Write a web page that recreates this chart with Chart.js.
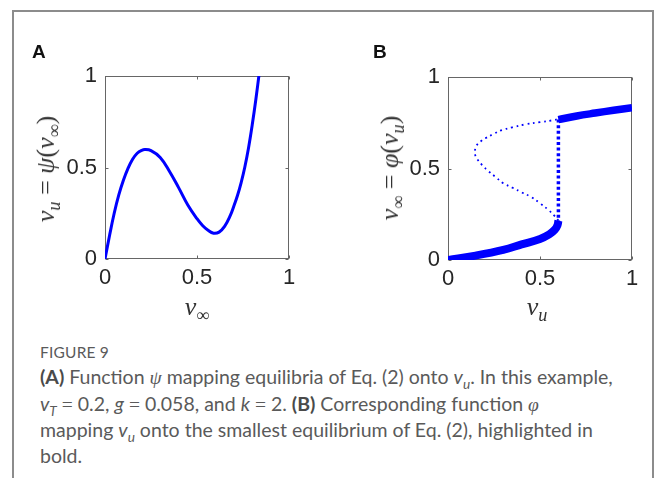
<!DOCTYPE html>
<html>
<head>
<meta charset="utf-8">
<script src="https://cdn.jsdelivr.net/npm/chart.js@4.4.0/dist/chart.umd.min.js"></script>
<style>
  html, body { margin: 0; padding: 0; background: #fff; }
  body { width: 656px; height: 478px; position: relative; overflow: hidden; }
  #frame { position: absolute; left: 12px; top: 10px; width: 638px; height: 520px;
           border: 2px solid #8c8c8c; border-bottom: none; }
  .cv { position: absolute; top: 0; }
  .plabel { position: absolute; font: bold 19px "Liberation Sans", Arial, sans-serif; line-height: 19px; color: #111; }
  .math { position: absolute; white-space: nowrap; font-family: "Liberation Serif", serif;
          font-style: italic; font-size: 26px; line-height: 26px; color: #333; }
  .math sub { font-size: 70%; vertical-align: -0.35em; line-height: 0; }
  .math .n { font-style: normal; }
  .ylab { transform: translate(-50%, -50%) rotate(-90deg); }
  .xlab { transform: translateX(-50%); }
  #caption { position: absolute; left: 40px; top: 340px; color: #5a5a5a; white-space: nowrap;
             font-family: Lato, "Open Sans", sans-serif; font-size: 19.5px; line-height: 25.5px; }
  #caption .fig { font-size: 15.5px; line-height: 24px; letter-spacing: 0.2px; }
  #caption b { color: #4a4a4a; }
  #caption .m { font-family: "Liberation Serif", serif; font-style: italic; }
  #caption sub { font-size: 70%; line-height: 0; }
</style>
</head>
<body>
<div id="frame"></div>
<canvas id="chartA" class="cv" style="left:0px" width="328" height="340"></canvas>
<canvas id="chartB" class="cv" style="left:328px" width="328" height="340"></canvas>

<div class="plabel" style="left:32px; top:42px">A</div>
<div class="plabel" style="left:373px; top:42px">B</div>

<div class="math ylab" style="left:46px; top:169px"><i>v</i><sub><i>u</i></sub> <span class="n">=</span> <i>ψ</i><span class="n">(</span><i>v</i><sub class="n">∞</sub><span class="n">)</span></div>
<div class="math xlab" style="left:197px; top:294px"><i>v</i><sub class="n">∞</sub></div>
<div class="math ylab" style="left:390px; top:168px"><i>v</i><sub class="n">∞</sub> <span class="n">=</span> <i>φ</i><span class="n">(</span><i>v</i><sub><i>u</i></sub><span class="n">)</span></div>
<div class="math xlab" style="left:537px; top:294px"><i>v</i><sub><i>u</i></sub></div>

<div id="caption">
  <div class="fig">FIGURE 9</div>
  <div><b>(A)</b> Function <span class="m">ψ</span> mapping equilibria of Eq. (2) onto <i>v<sub>u</sub></i>. In this example,</div>
  <div><i>v<sub>T</sub></i> <span class="m" style="font-style:normal">=</span> 0.2, <i>g</i> <span class="m" style="font-style:normal">=</span> 0.058, and <i>k</i> <span class="m" style="font-style:normal">=</span> 2. <b>(B)</b> Corresponding function <span class="m">φ</span></div>
  <div>mapping <i>v<sub>u</sub></i> onto the smallest equilibrium of Eq. (2), highlighted in</div>
  <div>bold.</div>
</div>

<script>
"use strict";

// panel A: v_u = psi(v_inf)
const vInfA = [0, 0.025, 0.05, 0.075, 0.1, 0.125, 0.15, 0.175, 0.2, 0.217, 0.25, 0.3, 0.35, 0.4, 0.45, 0.5, 0.53, 0.56, 0.59, 0.62, 0.65, 0.68, 0.7, 0.72, 0.74, 0.76, 0.78, 0.8, 0.82, 0.84];
const vuA = [0, 0.13, 0.25, 0.35, 0.43, 0.495, 0.545, 0.578, 0.594, 0.598, 0.592, 0.555, 0.48, 0.39, 0.295, 0.22, 0.183, 0.157, 0.141, 0.147, 0.178, 0.235, 0.288, 0.347, 0.418, 0.503, 0.607, 0.732, 0.873, 1.03];

// panel B: v_inf = phi(v_u)
// smallest equilibrium, lower branch (bold)
const lowVu = [0, 0.15, 0.3, 0.4, 0.5, 0.55, 0.58, 0.595, 0.6];
const lowVinf = [0, 0.024, 0.055, 0.085, 0.115, 0.14, 0.165, 0.19, 0.215];
// other equilibria (thin dotted)
const midVu = [0.6, 0.58, 0.55, 0.5, 0.45, 0.4, 0.35, 0.3, 0.257, 0.22, 0.185, 0.16, 0.147, 0.145, 0.155, 0.18, 0.203, 0.25, 0.293, 0.35, 0.42, 0.5, 0.565, 0.6];
const midVinf = [0.215, 0.24, 0.27, 0.31, 0.345, 0.37, 0.395, 0.42, 0.455, 0.485, 0.519, 0.55, 0.575, 0.59, 0.625, 0.65, 0.665, 0.69, 0.71, 0.725, 0.741, 0.753, 0.763, 0.77];
// jump at the fold
const jumpVu = [0.6, 0.6];
const jumpVinf = [0.2, 0.77];
// upper branch (bold)
const highVu = [0.6, 0.7, 0.8, 0.9, 1];
const highVinf = [0.767, 0.787, 0.803, 0.818, 0.832];

const ticks = [0, 0.5, 1];
const BLUE = "#0000ff";

function pts(xs, ys) {
  return xs.map((x, i) => ({ x: x, y: ys[i] }));
}

// matlab style box with inward ticks
const boxPlugin = {
  id: "box",
  beforeDatasetsDraw(chart) {
    const { ctx, chartArea: a, scales } = chart;
    const L = Math.round(a.left) + 0.5, R = Math.round(a.right) - 0.5;
    const T = Math.round(a.top) + 0.5, B = Math.round(a.bottom) - 0.5;
    ctx.save();
    ctx.strokeStyle = "#666";
    ctx.lineWidth = 1;
    ctx.strokeRect(L, T, R - L, B - T);
    ctx.beginPath();
    ticks.forEach((t) => {
      const px = Math.round(scales.x.getPixelForValue(t)) + 0.5;
      const py = Math.round(scales.y.getPixelForValue(t)) + 0.5;
      ctx.moveTo(px, B); ctx.lineTo(px, B - 3);
      ctx.moveTo(px, T); ctx.lineTo(px, T + 3);
      ctx.moveTo(L, py); ctx.lineTo(L + 3, py);
      ctx.moveTo(R, py); ctx.lineTo(R - 3, py);
    });
    ctx.stroke();
    ctx.restore();
  }
};

function makeChart(id, datasets, area) {
  const W = 328, H = 340;
  const tickFont = { family: "'Liberation Sans', Arial, sans-serif", size: 22 };
  return new Chart(document.getElementById(id), {
    type: "scatter",
    data: { datasets: datasets },
    options: {
      responsive: false,
      animation: false,
      events: [],
      layout: { padding: { top: area.top, right: W - area.right, left: 0, bottom: 0 } },
      plugins: { legend: { display: false }, tooltip: { enabled: false } },
      elements: { point: { radius: 0 } },
      scales: {
        x: {
          type: "linear", min: 0, max: 1,
          afterFit: (s) => { s.height = H - area.bottom; },
          afterBuildTicks: (s) => { s.ticks = ticks.map((v) => ({ value: v })); },
          grid: { display: false, drawTicks: false },
          border: { display: false },
          ticks: { color: "#262626", font: tickFont, padding: 6, maxRotation: 0,
                   callback: (v) => String(v) }
        },
        y: {
          type: "linear", min: 0, max: 1,
          afterFit: (s) => { s.width = area.left; },
          afterBuildTicks: (s) => { s.ticks = ticks.map((v) => ({ value: v })); },
          grid: { display: false, drawTicks: false },
          border: { display: false },
          ticks: { color: "#262626", font: tickFont, padding: 8,
                   callback: (v) => String(v) }
        }
      }
    },
    plugins: [boxPlugin]
  });
}

makeChart("chartA", [
  { data: pts(vInfA, vuA), showLine: true, borderColor: BLUE, borderWidth: 3, tension: 0.4 }
], { left: 105, right: 289, top: 76, bottom: 259 });

makeChart("chartB", [
  { data: pts(midVu, midVinf), showLine: true, borderColor: BLUE, borderWidth: 1.8, borderDash: [1.8, 3.8], tension: 0.4 },
  { data: pts(jumpVu, jumpVinf), showLine: true, borderColor: BLUE, borderWidth: 3.5, borderDash: [3, 2.6] },
  { data: pts(lowVu, lowVinf), showLine: true, borderColor: BLUE, borderWidth: 8, tension: 0.4 },
  { data: pts(highVu, highVinf), showLine: true, borderColor: BLUE, borderWidth: 7.5, tension: 0.4 }
], { left: 120, right: 304, top: 77, bottom: 260 });
</script>
</body>
</html>
